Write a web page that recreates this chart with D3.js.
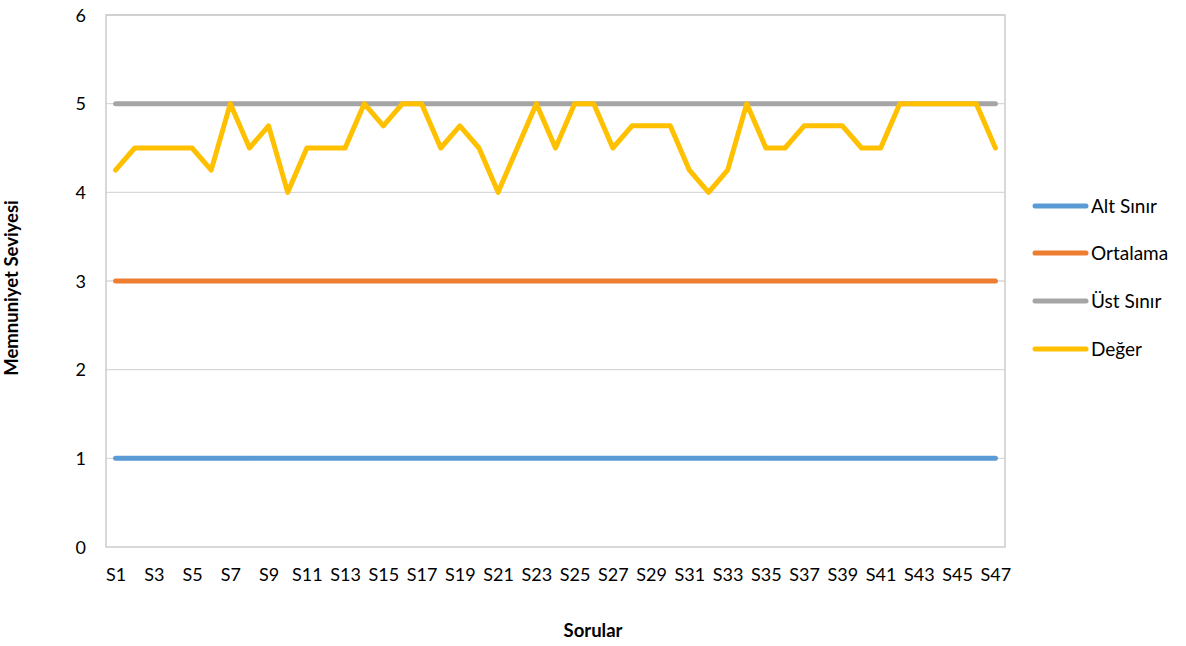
<!DOCTYPE html>
<html><head><meta charset="utf-8">
<script src="https://cdn.jsdelivr.net/npm/d3@7"></script>
<style>
body{margin:0;background:#fff;}
text{font-family:Lato,"Open Sans",sans-serif;}
</style></head>
<body>
<svg id="c" width="1186" height="646"></svg>
<script>
const categories = ["S1","S2","S3","S4","S5","S6","S7","S8","S9","S10","S11","S12","S13","S14","S15","S16","S17","S18","S19","S20","S21","S22","S23","S24","S25","S26","S27","S28","S29","S30","S31","S32","S33","S34","S35","S36","S37","S38","S39","S40","S41","S42","S43","S44","S45","S46","S47"];
const altSinir = [1,1,1,1,1,1,1,1,1,1,1,1,1,1,1,1,1,1,1,1,1,1,1,1,1,1,1,1,1,1,1,1,1,1,1,1,1,1,1,1,1,1,1,1,1,1,1];
const ortalama = [3,3,3,3,3,3,3,3,3,3,3,3,3,3,3,3,3,3,3,3,3,3,3,3,3,3,3,3,3,3,3,3,3,3,3,3,3,3,3,3,3,3,3,3,3,3,3];
const ustSinir = [5,5,5,5,5,5,5,5,5,5,5,5,5,5,5,5,5,5,5,5,5,5,5,5,5,5,5,5,5,5,5,5,5,5,5,5,5,5,5,5,5,5,5,5,5,5,5];
const deger = [4.25,4.5,4.5,4.5,4.5,4.25,5,4.5,4.75,4,4.5,4.5,4.5,5,4.75,5,5,4.5,4.75,4.5,4,4.5,5,4.5,5,5,4.5,4.75,4.75,4.75,4.25,4,4.25,5,4.5,4.5,4.75,4.75,4.75,4.5,4.5,5,5,5,5,5,4.5];
const seriesNames = ["Alt Sınır","Ortalama","Üst Sınır","Değer"];
const seriesColors = ["#5b9bd5","#ed7d31","#a5a5a5","#ffc000"];
const yTicks = [0,1,2,3,4,5,6];
const seriesData = [altSinir, ortalama, ustSinir, deger];

const svg = d3.select("#c");
const L = 106, R = 1005, T = 15, B = 547;
const x = d3.scalePoint().domain(categories).range([L, R]).padding(0.5);
const y = d3.scaleLinear().domain([0,6]).range([B, T]);

// gridlines
svg.append("g").selectAll("line").data(yTicks.filter(d=>d>0)).join("line")
  .attr("x1", L).attr("x2", R).attr("y1", d=>y(d)).attr("y2", d=>y(d))
  .attr("stroke", "#d9d9d9").attr("stroke-width", 1.3);
// plot border
svg.append("rect").attr("x", L).attr("y", T).attr("width", R-L).attr("height", B-T)
  .attr("fill","none").attr("stroke","#cccccc").attr("stroke-width",1.5);

// axes
const yAxis = d3.axisLeft(y).tickValues(yTicks).tickFormat(d3.format("d")).tickSize(0).tickPadding(0);
const gy = svg.append("g").attr("transform", `translate(${L-20},0)`).call(yAxis);
gy.select(".domain").remove();
gy.selectAll("text").attr("font-size", 18).attr("fill","#000").attr("dy","0.35em");

const xAxis = d3.axisBottom(x).tickValues(categories.filter((d,i)=>i%2===0)).tickSize(0).tickPadding(0);
const gx = svg.append("g").attr("transform", `translate(0,${B+21})`).call(xAxis);
gx.select(".domain").remove();
gx.selectAll("text").attr("font-size", 18).attr("fill","#000").attr("dy","0.71em");

// lines
const line = d3.line().x((d,i)=>x(categories[i])).y(d=>y(d));
seriesData.forEach((s, k) => {
  svg.append("path").datum(s).attr("d", line).attr("fill","none")
    .attr("stroke", seriesColors[k]).attr("stroke-width", 5)
    .attr("stroke-linecap","round").attr("stroke-linejoin","round");
});

// axis titles
svg.append("text").attr("x", 593).attr("y", 637).attr("text-anchor","middle")
  .attr("font-size", 18.5).attr("font-weight","bold").attr("fill","#000").text("Sorular");
svg.append("text").attr("transform","translate(18,288) rotate(-90)").attr("text-anchor","middle")
  .attr("font-size", 18.5).attr("font-weight","bold").attr("fill","#000").text("Memnuniyet Seviyesi");

// legend
const legY = [206, 253, 301, 349];
const lg = svg.append("g");
seriesNames.forEach((n,k)=>{
  lg.append("line").attr("x1",1035).attr("x2",1086).attr("y1",legY[k]).attr("y2",legY[k])
    .attr("stroke",seriesColors[k]).attr("stroke-width",5).attr("stroke-linecap","round");
  lg.append("text").attr("x",1091).attr("y",legY[k]).attr("dy","0.35em")
    .attr("font-size",19).attr("fill","#000").text(n);
});
</script>
</body></html>
